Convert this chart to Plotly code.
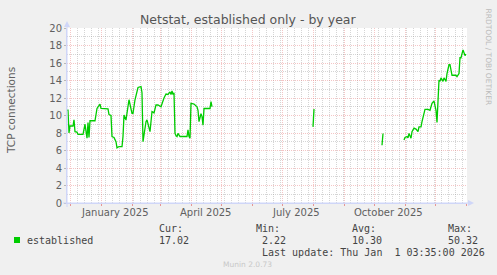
import plotly.graph_objects as go

# ---------------- data ----------------
dates = [
    "2024-11-28", "2024-11-29", "2024-11-30", "2024-12-01", "2024-12-04", "2024-12-05", "2024-12-06",
    "2024-12-08", "2024-12-09", "2024-12-14", "2024-12-16", "2024-12-18", "2024-12-19", "2024-12-20",
    "2024-12-21", "2024-12-26", "2024-12-28", "2024-12-31", "2025-01-01", "2025-01-07", "2025-01-08",
    "2025-01-09", "2025-01-11", "2025-01-12", "2025-01-14", "2025-01-16", "2025-01-17", "2025-01-19",
    "2025-01-22", "2025-01-23", "2025-01-24", "2025-01-26", "2025-01-27", "2025-01-29", "2025-02-01",
    "2025-02-02", "2025-02-04", "2025-02-06", "2025-02-07", "2025-02-10", "2025-02-11", "2025-02-12",
    "2025-02-13", "2025-02-15", "2025-02-16", "2025-02-18", "2025-02-19", "2025-02-21", "2025-02-23",
    "2025-02-25", "2025-02-27", "2025-03-02", "2025-03-04", "2025-03-05", "2025-03-07", "2025-03-09",
    "2025-03-11", "2025-03-12", "2025-03-13", "2025-03-14", "2025-03-15", "2025-03-16", "2025-03-17",
    "2025-03-18", "2025-03-19", "2025-03-21", "2025-03-28", "2025-03-29", "2025-03-30", "2025-03-31",
    "2025-04-01", "2025-04-04", "2025-04-07", "2025-04-08", "2025-04-09", "2025-04-10", "2025-04-11",
    "2025-04-12", "2025-04-13", "2025-04-14", "2025-04-20", "2025-04-21", "2025-04-22", "2025-04-23",
    "2025-08-01", "2025-08-02", "2025-08-03",
    "2025-10-09", "2025-10-10", "2025-10-11",
    "2025-10-31", "2025-11-01", "2025-11-03", "2025-11-04", "2025-11-05", "2025-11-07", "2025-11-08",
    "2025-11-10", "2025-11-12", "2025-11-14", "2025-11-15", "2025-11-17", "2025-11-18", "2025-11-21",
    "2025-11-24", "2025-11-26", "2025-11-28", "2025-11-30", "2025-12-02", "2025-12-03", "2025-12-05",
    "2025-12-06", "2025-12-07", "2025-12-09", "2025-12-10", "2025-12-12", "2025-12-13", "2025-12-15",
    "2025-12-16", "2025-12-18", "2025-12-21", "2025-12-22", "2025-12-23", "2025-12-25", "2025-12-26",
    "2025-12-27", "2025-12-29", "2025-12-31", "2026-01-01",
]
connections = [
    10.6, 10.6, 8.0, 8.8, 8.8, 9.5, 8.15,
    8.1, 7.85, 7.85, 9.0, 7.4, 9.2, 7.5,
    9.4, 9.4, 10.8, 11.3, 10.8, 10.75, 10.75,
    10.1, 10.0, 7.6, 7.5, 7.0, 6.3, 6.45,
    6.45, 7.6, 10.05, 9.5, 10.4, 11.8, 10.25,
    10.25, 11.8, 12.9, 13.2, 13.3, 12.6, 7.0,
    8.0, 9.3, 9.5, 8.5, 8.15, 10.45, 10.3,
    11.2, 11.2, 11.0, 11.8, 12.0, 12.45, 12.4,
    12.7, 12.4, 12.8, 12.4, 12.6, 7.95, 7.7,
    7.6, 7.95, 7.6, 7.6, 8.35, 7.6, 7.4,
    11.4, 11.3, 11.0, 10.6, 9.3, 9.9, 10.2,
    9.9, 8.9, 10.8, 10.8, 11.6, 11.0, None,
    8.7, 10.75, None,
    6.6, 7.95, None,
    7.2, 7.5, 7.6, 7.45, 7.95, 7.4, 8.15,
    8.55, 8.45, 8.15, 8.7, 8.7, 9.3, 10.7,
    10.7, 10.6, 11.4, 11.65, 10.6, 9.2, 14.05,
    13.9, 14.3, 13.9, 14.3, 13.9, 14.8, 15.8,
    15.8, 14.6, 14.6, 14.6, 14.45, 14.8, 16.6,
    16.6, 17.5, 16.85, 17.02,
]

x_tick_dates = ["2025-01-15", "2025-04-15", "2025-07-15", "2025-10-15"]
x_tick_labels = ["January 2025", "April 2025", "July 2025", "October 2025"]

series_name = "established"
stat_labels = ["Cur:", "Min:", "Avg:", "Max:"]
stat_values = ["17.02", "2.22", "10.30", "50.32"]
last_update = "Last update: Thu Jan \u00a01 03:35:00 2026"
title_text = "Netstat, established only - by year"
y_title = "TCP connections"
x_range = ["2024-11-28", "2026-01-02"]
y_range = [0, 20]

# ---------------- layout geometry ----------------
W, H = 497, 275
L, R, T, B = 67, 467, 28, 203


def px(x):
    return (x - L) / (R - L)


def py(y):
    return (B - y) / (B - T)


FONT = "DejaVu Sans"
MONO = "DejaVu Sans Mono"
TXT = "#606060"
AXIS = "#CFD6F8"
MAJOR = "rgba(230,120,120,0.42)"
MINOR = "rgba(150,150,150,0.40)"

fig = go.Figure()
fig.add_trace(go.Scatter(
    x=dates, y=connections, mode="lines",
    line=dict(color="#00CC00", width=1.3),
    connectgaps=False, showlegend=False, hoverinfo="skip",
))

fig.update_layout(
    width=W, height=H,
    margin=dict(l=L, r=W - R, t=T, b=H - B),
    paper_bgcolor="#F0F0F0", plot_bgcolor="#FFFFFF",
    showlegend=False,
    font=dict(family=FONT, size=10, color=TXT),
)

fig.update_xaxes(
    type="date", range=x_range,
    dtick="M1", tick0="2024-12-01",
    showgrid=True, gridcolor=MAJOR, griddash="1px,1px", gridwidth=1,
    showticklabels=False, ticks="outside", ticklen=2, tickcolor="rgba(225,110,110,0.7)",
    minor=dict(dtick=7 * 86400000, tick0="2024-12-01", showgrid=True,
               gridcolor=MINOR, griddash="1px,1px", gridwidth=1),
    showline=True, linecolor=AXIS, linewidth=1, zeroline=False,
)
fig.update_yaxes(
    range=y_range, dtick=2, tick0=0,
    showgrid=True, gridcolor=MAJOR, griddash="1px,1px", gridwidth=1,
    tickfont=dict(family=FONT, size=10, color=TXT),
    ticks="outside", ticklen=2, tickcolor="#B8B8B8",
    minor=dict(dtick=1, showgrid=True, gridcolor=MINOR,
               griddash="1px,1px", gridwidth=1),
    showline=True, linecolor=AXIS, linewidth=1, zeroline=False,
)

ann = []
# title
ann.append(dict(text=title_text, x=px(248), y=py(20), xref="paper", yref="paper",
                xanchor="center", yanchor="middle", showarrow=False,
                font=dict(family=FONT, size=12.5, color="#555555")))
# y title
ann.append(dict(text=y_title, x=px(11), y=py(110), xref="paper", yref="paper",
                xanchor="center", yanchor="middle", showarrow=False, textangle=-90,
                font=dict(family=FONT, size=10.5, color=TXT)))
# right watermark
ann.append(dict(text="RRDTOOL / TOBI OETIKER", x=px(488), y=py(6), xref="paper", yref="paper",
                xanchor="center", yanchor="top", showarrow=False, textangle=90,
                font=dict(family=FONT, size=7.5, color="#BBBBBB")))
# x tick labels
for d, lab in zip(x_tick_dates, x_tick_labels):
    ann.append(dict(text=lab, x=d, y=py(212), xref="x", yref="paper",
                    xanchor="center", yanchor="middle", showarrow=False,
                    font=dict(family=FONT, size=10, color=TXT)))
# legend
ann.append(dict(text=series_name, x=px(26), y=py(240), xref="paper", yref="paper",
                xanchor="left", yanchor="middle", showarrow=False, borderpad=0,
                font=dict(family=MONO, size=10, color="#444444")))
label_x = [158, 255, 351, 447]
value_x = [158, 261, 351, 447]
for lx, vx, lab, val in zip(label_x, value_x, stat_labels, stat_values):
    ann.append(dict(text=lab, x=px(lx), y=py(228), xref="paper", yref="paper",
                    xanchor="left", yanchor="middle", showarrow=False, borderpad=0,
                    font=dict(family=MONO, size=10, color="#444444")))
    ann.append(dict(text=val, x=px(vx), y=py(240), xref="paper", yref="paper",
                    xanchor="left", yanchor="middle", showarrow=False, borderpad=0,
                    font=dict(family=MONO, size=10, color="#444444")))
ann.append(dict(text=last_update, x=px(261), y=py(252), xref="paper", yref="paper",
                xanchor="left", yanchor="middle", showarrow=False, borderpad=0,
                font=dict(family=MONO, size=10, color="#444444")))
ann.append(dict(text="Munin 2.0.73", x=px(247), y=py(264), xref="paper", yref="paper",
                xanchor="center", yanchor="middle", showarrow=False,
                font=dict(family=FONT, size=7.5, color="#C8C8C8")))
fig.update_layout(annotations=ann)

shapes = []
# legend swatch
shapes.append(dict(type="rect", xref="paper", yref="paper",
                   x0=px(14), x1=px(20), y0=py(243), y1=py(237),
                   fillcolor="#00CC00", line=dict(width=0)))
# axis extensions + arrows
shapes.append(dict(type="line", xref="paper", yref="paper",
                   x0=px(67), x1=px(67), y0=py(207), y1=py(26),
                   line=dict(color=AXIS, width=1)))
shapes.append(dict(type="line", xref="paper", yref="paper",
                   x0=px(63), x1=px(469), y0=py(203), y1=py(203),
                   line=dict(color=AXIS, width=1)))
shapes.append(dict(type="path", xref="paper", yref="paper",
                   path=f"M {px(64)} {py(27)} L {px(70)} {py(27)} L {px(67)} {py(21)} Z",
                   fillcolor=AXIS, line=dict(width=0)))
shapes.append(dict(type="path", xref="paper", yref="paper",
                   path=f"M {px(468)} {py(200)} L {px(468)} {py(206)} L {px(474)} {py(203)} Z",
                   fillcolor=AXIS, line=dict(width=0)))
fig.update_layout(shapes=shapes)

fig.write_html("out.html")
